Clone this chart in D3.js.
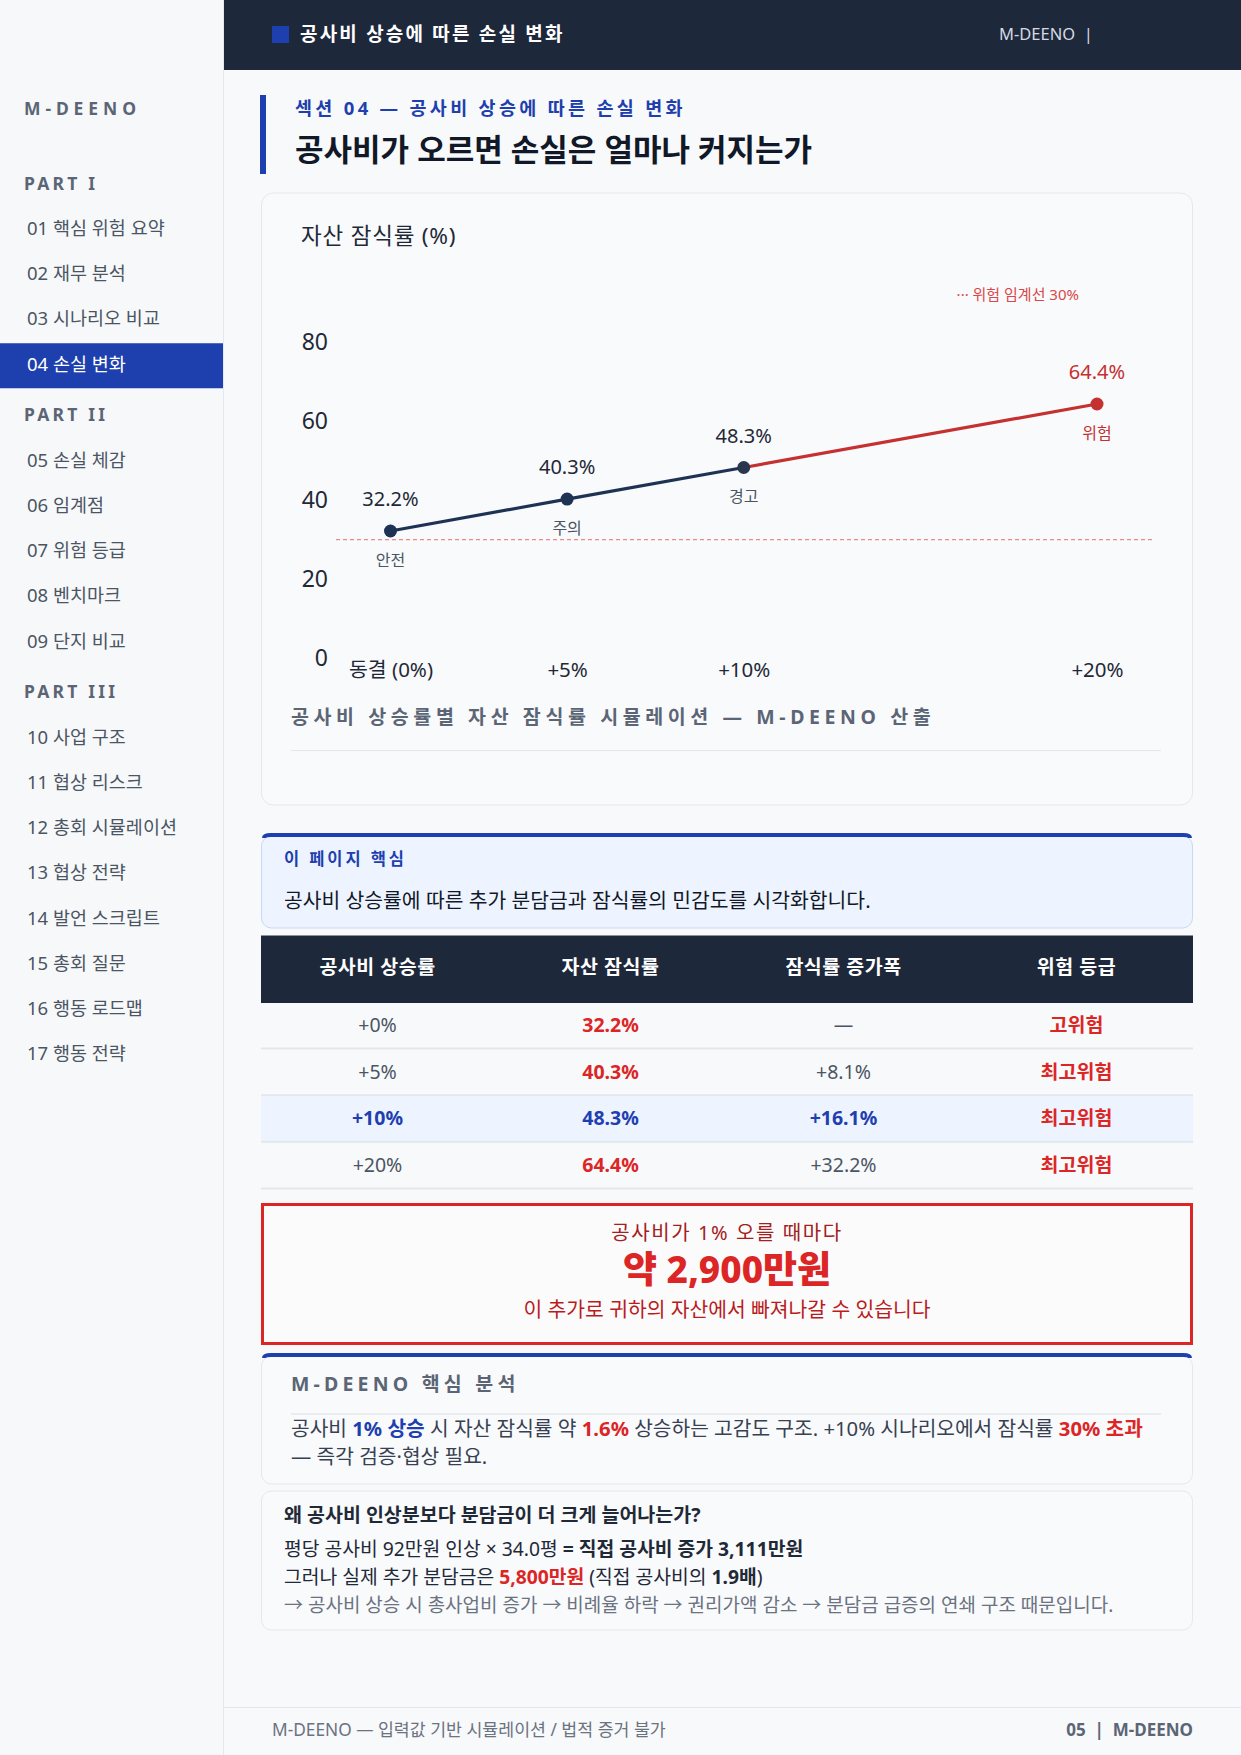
<!DOCTYPE html>
<html>
<head>
<meta charset="utf-8">
<script src="https://cdn.jsdelivr.net/npm/d3@7"></script>
<style>
  html, body { margin: 0; padding: 0; background: #f8f9fb; }
  svg { display: block; font-family: "Noto Sans", "Noto Sans CJK KR", sans-serif; }
</style>
</head>
<body>
<div id="page"></div>
<script>
// ---- data ----
var navParts = ["PART I", "PART II", "PART III"];
var navItems = [
  ["01 핵심 위험 요약", "02 재무 분석", "03 시나리오 비교", "04 손실 변화"],
  ["05 손실 체감", "06 임계점", "07 위험 등급", "08 벤치마크", "09 단지 비교"],
  ["10 사업 구조", "11 협상 리스크", "12 총회 시뮬레이션", "13 협상 전략", "14 발언 스크립트", "15 총회 질문", "16 행동 로드맵", "17 행동 전략"]
];
var activeItem = "04 손실 변화";

var rates = [0, 5, 10, 20];
var rateLabels = ["동결 (0%)", "+5%", "+10%", "+20%"];
var erosion = [32.2, 40.3, 48.3, 64.4];
var statusLabels = ["안전", "주의", "경고", "위험"];
var yTicks = [0, 20, 40, 60, 80];
var threshold = 30;

var tableHeaders = ["공사비 상승률", "자산 잠식률", "잠식률 증가폭", "위험 등급"];
var tableRate = ["+0%", "+5%", "+10%", "+20%"];
var tableIncrease = ["—", "+8.1%", "+16.1%", "+32.2%"];
var tableGrade = ["고위험", "최고위험", "최고위험", "최고위험"];
var highlightRow = 2;

var W = 1241, H = 1755;
var navy = "#1e283b", blue = "#1e40af", red = "#dc2626", darkRed = "#c53030";
var cardL = 261, cardR = 1193;

var svg = d3.select("#page").append("svg")
  .attr("width", W).attr("height", H);

svg.append("rect").attr("width", W).attr("height", H).attr("fill", "#f8f9fb");

// ---- sidebar ----
var side = svg.append("g");
side.append("rect").attr("width", 223).attr("height", H).attr("fill", "#f7f8fa");
side.append("line").attr("x1", 223.5).attr("x2", 223.5).attr("y1", 0).attr("y2", H)
  .attr("stroke", "#e3e7ee");

side.append("text").attr("x", 24).attr("y", 109).attr("dy", "0.35em")
  .attr("font-size", 17.5).attr("font-weight", 700).attr("letter-spacing", 4.9)
  .attr("fill", "#5b6575").text("M-DEENO");

var yPos = 183.5;
navParts.forEach(function(p, i) {
  side.append("text").attr("x", 24).attr("y", yPos).attr("dy", "0.35em")
    .attr("font-size", 17.5).attr("font-weight", 700).attr("letter-spacing", 3.2)
    .attr("fill", "#5b6575").text(p);
  yPos += 45;
  navItems[i].forEach(function(item, k) {
    if (item === activeItem) {
      side.append("rect").attr("x", 0).attr("y", yPos - 21).attr("width", 223).attr("height", 45)
        .attr("fill", "#1e3fae");
    }
    side.append("text").attr("x", 27).attr("y", yPos).attr("dy", "0.35em")
      .attr("font-size", 18.5)
      .attr("fill", item === activeItem ? "#ffffff" : "#4b5563")
      .text(item);
    if (k < navItems[i].length - 1) yPos += 45.25;
  });
  yPos += 51;
});

// ---- header bar ----
svg.append("rect").attr("x", 224).attr("y", 0).attr("width", W - 224).attr("height", 70).attr("fill", navy);
svg.append("rect").attr("x", 272).attr("y", 26).attr("width", 17).attr("height", 17).attr("fill", "#1e3fae");
svg.append("text").attr("x", 300).attr("y", 34).attr("dy", "0.35em")
  .attr("font-size", 19).attr("font-weight", 600).attr("letter-spacing", 2.2).attr("fill", "#ffffff")
  .text("공사비 상승에 따른 손실 변화");
svg.append("text").attr("x", 999).attr("y", 34).attr("dy", "0.35em")
  .attr("font-size", 16.5).attr("fill", "#d5dae2").attr("xml:space", "preserve")
  .text("M-DEENO  |");

// ---- section title ----
svg.append("rect").attr("x", 260).attr("y", 95).attr("width", 6).attr("height", 79).attr("fill", "#1e3fae");
svg.append("text").attr("x", 295).attr("y", 109).attr("dy", "0.35em")
  .attr("font-size", 18.5).attr("font-weight", 700).attr("letter-spacing", 3.3).attr("fill", "#1e3fae")
  .text("섹션 04 — 공사비 상승에 따른 손실 변화");
svg.append("text").attr("x", 295).attr("y", 150).attr("dy", "0.35em")
  .attr("font-size", 31).attr("font-weight", 700).attr("fill", "#111827")
  .text("공사비가 오르면 손실은 얼마나 커지는가");

// ---- chart card ----
svg.append("rect").attr("x", cardL + 0.5).attr("y", 193).attr("width", cardR - cardL - 1).attr("height", 612)
  .attr("rx", 12).attr("fill", "#f9fafc").attr("stroke", "#e3e8f0");

svg.append("text").attr("x", 301).attr("y", 236).attr("dy", "0.35em")
  .attr("font-size", 22.5).attr("letter-spacing", 0.8).attr("fill", "#1f2937").text("자산 잠식률 (%)");

var x = d3.scaleLinear().domain([0, 20]).range([390.5, 1097]);
var y = d3.scaleLinear().domain([0, 80]).range([658, 342.5]);

var yAxis = svg.append("g").attr("transform", "translate(336,0)")
  .call(d3.axisLeft(y).tickValues(yTicks).tickSize(0).tickPadding(8));
yAxis.select(".domain").remove();
yAxis.selectAll("text").attr("font-size", 23).attr("fill", "#1f2937")
  .attr("font-family", "Noto Sans, Noto Sans CJK KR, sans-serif");

var xAxis = svg.append("g").attr("transform", "translate(0,658)")
  .call(d3.axisBottom(x).tickValues(rates).tickSize(0).tickPadding(4)
    .tickFormat(function(d, i) { return rateLabels[i]; }));
xAxis.select(".domain").remove();
xAxis.selectAll("text").attr("font-size", 20.5).attr("fill", "#1f2937")
  .attr("font-family", "Noto Sans, Noto Sans CJK KR, sans-serif");

// threshold
svg.append("line").attr("x1", 336).attr("x2", 1153)
  .attr("y1", y(threshold)).attr("y2", y(threshold))
  .attr("stroke", "#f08a8a").attr("stroke-width", 1.2).attr("stroke-dasharray", "4,3");
svg.append("text").attr("x", 1079).attr("y", 295).attr("dy", "0.35em").attr("text-anchor", "end")
  .attr("font-size", 15).attr("fill", "#d94848").text("··· 위험 임계선 30%");

var pts = rates.map(function(r, i) { return { r: r, v: erosion[i], s: statusLabels[i], i: i }; });
var line = d3.line().x(function(d) { return x(d.r); }).y(function(d) { return y(d.v); });

svg.append("path").datum(pts.slice(0, 3)).attr("d", line)
  .attr("fill", "none").attr("stroke", "#1e3254").attr("stroke-width", 3.2);
svg.append("path").datum(pts.slice(2)).attr("d", line)
  .attr("fill", "none").attr("stroke", darkRed).attr("stroke-width", 3.2);

var isRisk = function(d) { return d.i === pts.length - 1; };

svg.selectAll(".pt").data(pts).enter().append("circle")
  .attr("cx", function(d) { return x(d.r); })
  .attr("cy", function(d) { return y(d.v); })
  .attr("r", 6.5)
  .attr("fill", function(d) { return isRisk(d) ? darkRed : (d.i === 2 ? "#2a3650" : "#1e3254"); });

svg.selectAll(".vl").data(pts).enter().append("text")
  .attr("x", function(d) { return x(d.r); })
  .attr("y", function(d) { return y(d.v) - 32; })
  .attr("dy", "0.35em").attr("text-anchor", "middle")
  .attr("font-size", 20)
  .attr("fill", function(d) { return isRisk(d) ? darkRed : "#1f2937"; })
  .text(function(d) { return d.v.toFixed(1) + "%"; });

svg.selectAll(".sl").data(pts).enter().append("text")
  .attr("x", function(d) { return x(d.r); })
  .attr("y", function(d) { return y(d.v) + 29; })
  .attr("dy", "0.35em").attr("text-anchor", "middle")
  .attr("font-size", 16)
  .attr("fill", function(d) { return isRisk(d) ? darkRed : "#4b5563"; })
  .text(function(d) { return d.s; });

svg.append("text").attr("x", 291).attr("y", 717).attr("dy", "0.35em")
  .attr("font-size", 19.5).attr("font-weight", 700).attr("letter-spacing", 4.6).attr("fill", "#5b6575")
  .text("공사비 상승률별 자산 잠식률 시뮬레이션 — M-DEENO 산출");
svg.append("line").attr("x1", 291).attr("x2", 1161).attr("y1", 750.5).attr("y2", 750.5)
  .attr("stroke", "#e5e7eb");

// ---- key box ----
svg.append("rect").attr("x", cardL + 0.5).attr("y", 836).attr("width", cardR - cardL - 1).attr("height", 92)
  .attr("rx", 10).attr("fill", "#eef4ff").attr("stroke", "#c9d8f4");
svg.append("path").attr("d", "M" + (cardL + 3) + ",838 Q" + (cardL + 3) + ",835 " + (cardL + 10) + ",835 L" + (cardR - 10) + ",835 Q" + (cardR - 3) + ",835 " + (cardR - 3) + ",838")
  .attr("fill", "none").attr("stroke", "#1e3fae").attr("stroke-width", 4);
svg.append("text").attr("x", 284).attr("y", 859).attr("dy", "0.35em")
  .attr("font-size", 16.5).attr("font-weight", 700).attr("letter-spacing", 2.9).attr("fill", "#1e3fae")
  .text("이 페이지 핵심");
svg.append("text").attr("x", 284).attr("y", 901).attr("dy", "0.35em")
  .attr("font-size", 20.4).attr("fill", "#111827")
  .text("공사비 상승률에 따른 추가 분담금과 잠식률의 민감도를 시각화합니다.");

// ---- table ----
var colW = (cardR - cardL) / 4;
var colX = function(c) { return cardL + colW * c + colW / 2; };
svg.append("rect").attr("x", cardL).attr("y", 935.5).attr("width", cardR - cardL).attr("height", 67.5).attr("fill", navy);
tableHeaders.forEach(function(h, c) {
  svg.append("text").attr("x", colX(c)).attr("y", 967).attr("dy", "0.35em").attr("text-anchor", "middle")
    .attr("font-size", 19.5).attr("font-weight", 700).attr("letter-spacing", 0.5).attr("fill", "#ffffff").text(h);
});

var rowH = 46.6, row0 = 1003;
tableRate.forEach(function(r, i) {
  var top = row0 + i * rowH, cy = top + rowH / 2 - 1;
  var hl = i === highlightRow;
  if (hl) svg.append("rect").attr("x", cardL).attr("y", top).attr("width", cardR - cardL).attr("height", rowH).attr("fill", "#eef4ff");
  svg.append("line").attr("x1", cardL).attr("x2", cardR).attr("y1", top + rowH - 1).attr("y2", top + rowH - 1)
    .attr("stroke", "#e3e7ee").attr("stroke-width", 2);
  var cells = [
    { t: r, c: hl ? blue : "#4b5563", w: hl ? 700 : 400 },
    { t: erosion[i].toFixed(1) + "%", c: hl ? blue : red, w: 700 },
    { t: tableIncrease[i], c: hl ? blue : "#4b5563", w: hl ? 700 : 400 },
    { t: tableGrade[i], c: red, w: 700 }
  ];
  cells.forEach(function(cell, c) {
    svg.append("text").attr("x", colX(c)).attr("y", cy).attr("dy", "0.35em").attr("text-anchor", "middle")
      .attr("font-size", 19.5).attr("font-weight", cell.w).attr("fill", cell.c).text(cell.t);
  });
});

// ---- red callout ----
svg.append("rect").attr("x", cardL + 1.5).attr("y", 1204.5).attr("width", cardR - cardL - 3).attr("height", 139)
  .attr("fill", "#fbfbfc").attr("stroke", red).attr("stroke-width", 3);
svg.append("text").attr("x", (cardL + cardR) / 2).attr("y", 1233).attr("dy", "0.35em").attr("text-anchor", "middle")
  .attr("font-size", 20).attr("letter-spacing", 1.6).attr("fill", "#a32020").text("공사비가 1% 오를 때마다");
svg.append("text").attr("x", (cardL + cardR) / 2).attr("y", 1270).attr("dy", "0.35em").attr("text-anchor", "middle")
  .attr("font-size", 37).attr("font-weight", 800).attr("fill", red).text("약 2,900만원");
svg.append("text").attr("x", (cardL + cardR) / 2).attr("y", 1310).attr("dy", "0.35em").attr("text-anchor", "middle")
  .attr("font-size", 20.4).attr("fill", "#b91c1c").text("이 추가로 귀하의 자산에서 빠져나갈 수 있습니다");

// ---- analysis box ----
svg.append("rect").attr("x", cardL + 0.5).attr("y", 1356).attr("width", cardR - cardL - 1).attr("height", 128)
  .attr("rx", 10).attr("fill", "#f9fafc").attr("stroke", "#e3e8f0");
svg.append("path").attr("d", "M" + (cardL + 3) + ",1358 Q" + (cardL + 3) + ",1355 " + (cardL + 10) + ",1355 L" + (cardR - 10) + ",1355 Q" + (cardR - 3) + ",1355 " + (cardR - 3) + ",1358")
  .attr("fill", "none").attr("stroke", "#1e3fae").attr("stroke-width", 4);
svg.append("text").attr("x", 291).attr("y", 1384).attr("dy", "0.35em")
  .attr("font-size", 19.5).attr("font-weight", 700).attr("letter-spacing", 4.2).attr("fill", "#5b6575")
  .text("M-DEENO 핵심 분석");
svg.append("line").attr("x1", 291).attr("x2", 1161).attr("y1", 1414).attr("y2", 1414)
  .attr("stroke", "#e5e7eb").attr("stroke-width", 1.5);

function richText(xp, yp, size, parts) {
  var t = svg.append("text").attr("x", xp).attr("y", yp).attr("dy", "0.35em").attr("font-size", size)
    .attr("xml:space", "preserve");
  parts.forEach(function(p) {
    t.append("tspan").attr("fill", p.c || "#374151").attr("font-weight", p.w || 400).text(p.t);
  });
  return t;
}
richText(291, 1429, 20.3, [
  { t: "공사비 " }, { t: "1% 상승", c: blue, w: 700 }, { t: " 시 자산 잠식률 약 " },
  { t: "1.6%", c: red, w: 700 }, { t: " 상승하는 고감도 구조. +10% 시나리오에서 잠식률 " },
  { t: "30% 초과", c: red, w: 700 }
]);
richText(291, 1457, 20.3, [{ t: "— 즉각 검증·협상 필요." }]);

// ---- why box ----
svg.append("rect").attr("x", cardL + 0.5).attr("y", 1491).attr("width", cardR - cardL - 1).attr("height", 139)
  .attr("rx", 10).attr("fill", "#f9fafc").attr("stroke", "#e3e8f0");
richText(284, 1515, 19.5, [{ t: "왜 공사비 인상분보다 분담금이 더 크게 늘어나는가?", c: "#1f2937", w: 700 }]);
richText(284, 1549, 19.3, [
  { t: "평당 공사비 92만원 인상 × 34.0평 ", c: "#1f2937" }, { t: "= 직접 공사비 증가 3,111만원", c: "#1f2937", w: 700 }
]);
richText(284, 1577, 19.3, [
  { t: "그러나 실제 추가 분담금은 ", c: "#1f2937" }, { t: "5,800만원", c: red, w: 700 },
  { t: " (직접 공사비의 ", c: "#1f2937" }, { t: "1.9배", c: "#1f2937", w: 700 }, { t: ")", c: "#1f2937" }
]);
richText(284, 1605, 19, [
  { t: "→ 공사비 상승 시 총사업비 증가 → 비례율 하락 → 권리가액 감소 → 분담금 급증의 연쇄 구조 때문입니다.", c: "#6b7280" }
]);

// ---- footer ----
svg.append("line").attr("x1", 224).attr("x2", W).attr("y1", 1707.5).attr("y2", 1707.5).attr("stroke", "#e3e7ee");
svg.append("text").attr("x", 272).attr("y", 1730).attr("dy", "0.35em")
  .attr("font-size", 17.3).attr("fill", "#6b7280").text("M-DEENO — 입력값 기반 시뮬레이션 / 법적 증거 불가");
svg.append("text").attr("x", 1193).attr("y", 1730).attr("dy", "0.35em").attr("text-anchor", "end")
  .attr("font-size", 17).attr("font-weight", 700).attr("fill", "#5b6575").attr("xml:space", "preserve")
  .text("05  |  M-DEENO");
</script>
</body>
</html>
